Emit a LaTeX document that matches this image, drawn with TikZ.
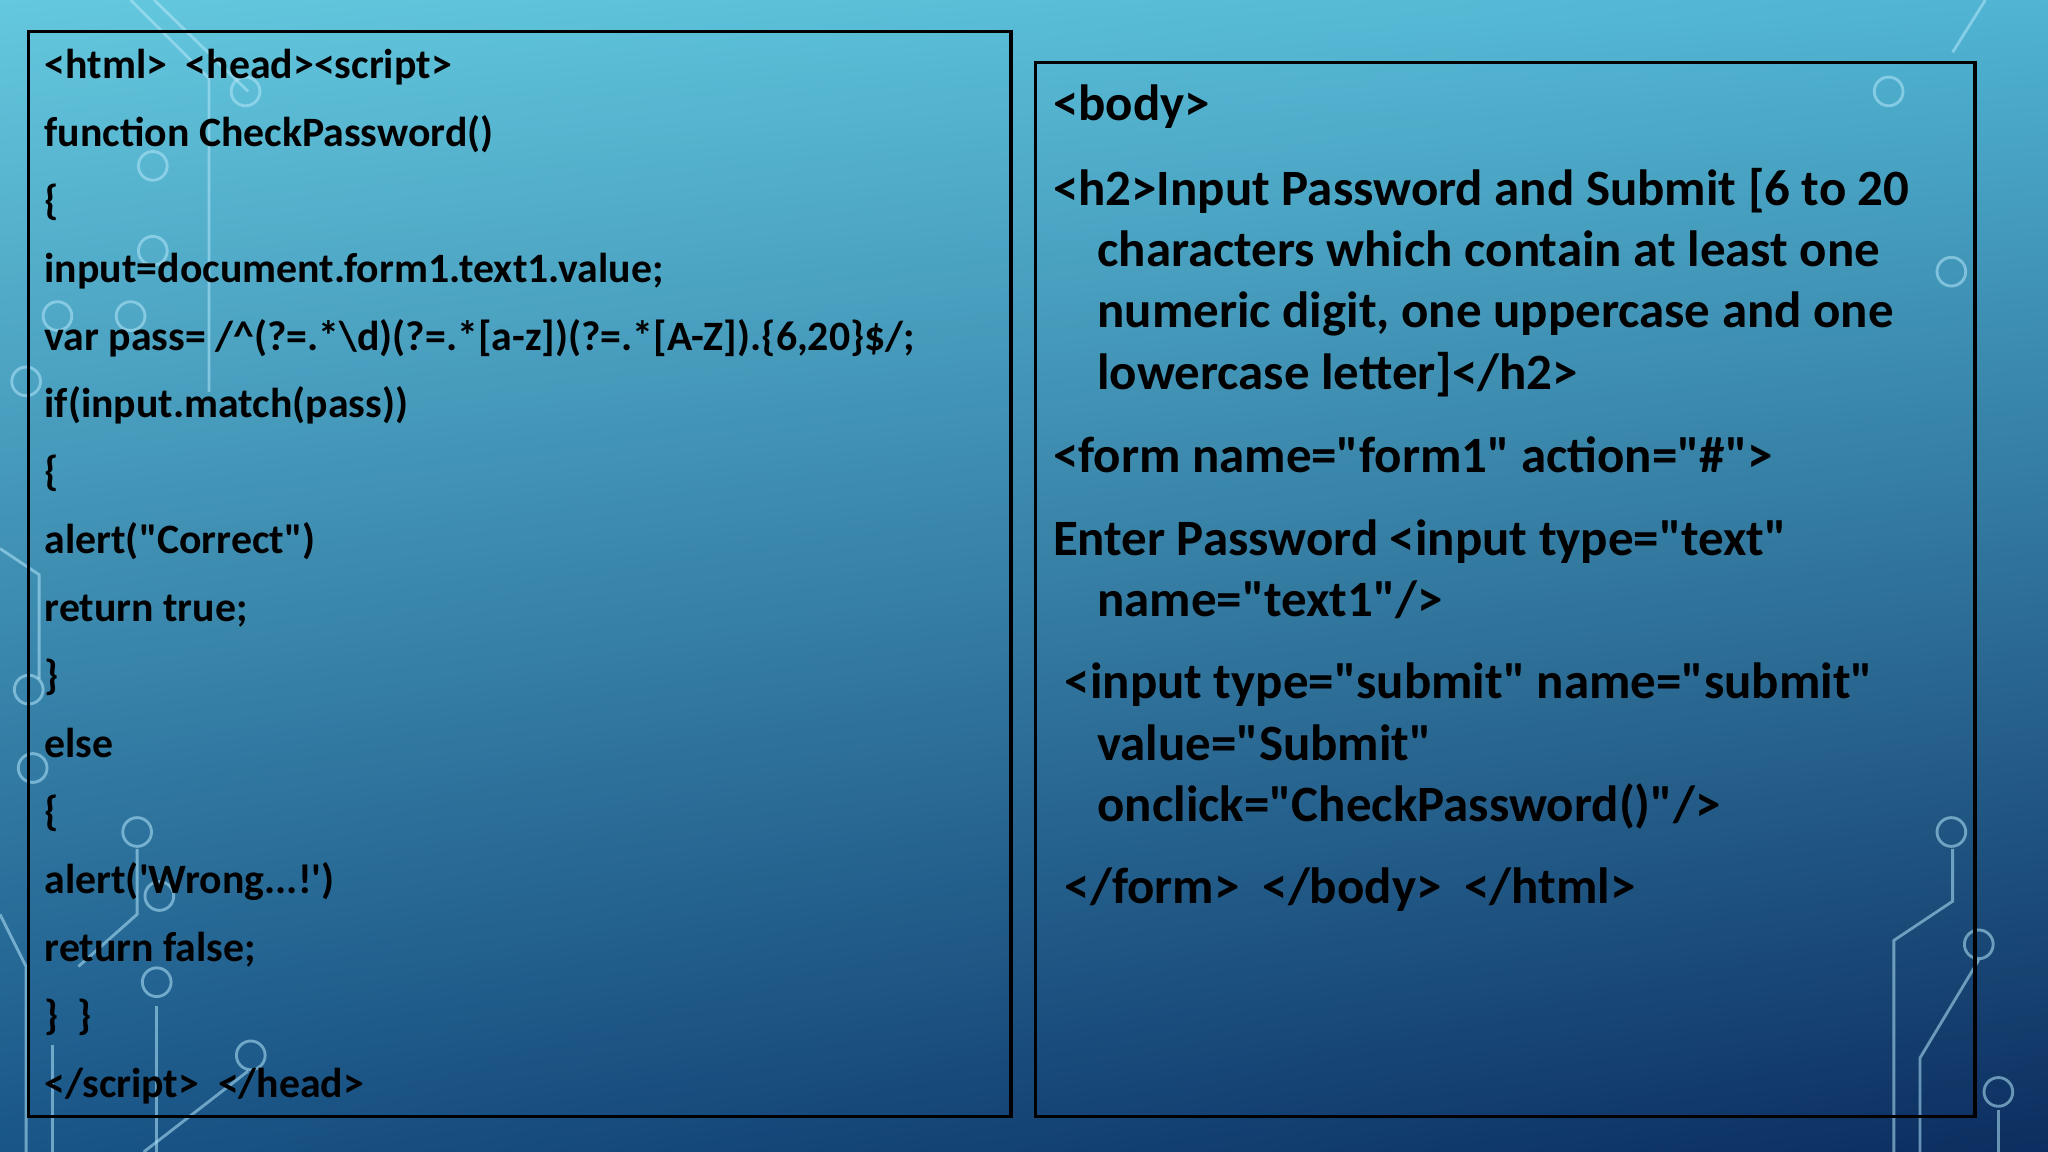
\documentclass[tikz,border=0pt]{standalone}
\usepackage{fontspec}
\usetikzlibrary{shadings}
\newfontfamily\cf{Carlito}[Ligatures=Common]
\begin{document}
\begin{tikzpicture}[x=1pt,y=-1pt,
  box/.style={draw=black,line width=2.5pt},
  lc/.style={anchor=base west,inner sep=0pt,font=\cf\bfseries\fontsize{32}{34}\selectfont,text=black},
  rc/.style={anchor=base west,inner sep=0pt,font=\cf\bfseries\fontsize{39}{42}\selectfont,text=black},
  trace/.style={draw=cyan!30!white,line width=2.2pt,opacity=0.55},
  pad/.style={draw=cyan!30!white,line width=2.2pt,opacity=0.55}]
\definecolor{ul}{RGB}{100,200,222}
\definecolor{ur}{RGB}{80,180,210}
\definecolor{ll}{RGB}{25,85,135}
\definecolor{lr}{RGB}{12,45,95}
\useasboundingbox (0,0) rectangle (1568,882);
\shade[upper left=ul, upper right=ur, lower left=ll, lower right=lr] (0,0) rectangle (1568,882);
% circuit decorations
\draw[trace] (100,0) -- (160,60) -- (160,300);
\draw[trace] (118,0) -- (190,70);
\draw[trace] (0,420) -- (30,440) -- (30,520);
\draw[trace] (0,700) -- (20,740) -- (20,882);
\draw[trace] (40,882) -- (40,800);
\draw[trace] (105,650) -- (105,700) -- (60,740);
\draw[trace] (120,770) -- (120,882);
\draw[trace] (190,820) -- (110,882);
\draw[trace] (1520,0) -- (1495,40);
\draw[trace] (1495,650) -- (1495,690) -- (1450,720) -- (1450,882);
\draw[trace] (1515,735) -- (1470,810) -- (1470,882);
\draw[trace] (1530,850) -- (1530,882);
\foreach \p in {(188,70),(117,127),(117,192),(100,242),(44,242),(20,292),(22,528),(25,588),(105,637),(122,686),(120,752),(192,808),(1446,70),(1494,208),(1494,637),(1515,723),(1530,836)}
  \draw[pad] \p circle (11);
\draw[box] (22,24) rectangle (774,855);
\draw[box] (793,48) rectangle (1512,855);
% left code
\node[lc] (l1) at (34,60) {<html>\ \ <head><script>};
\node[lc] (l2) at (34,112) {function CheckPassword()};
\node[lc] (l3) at (34,164) {\{};
\node[lc] (l4) at (34,216) {input=document.form1.text1.value;};
\node[lc] (l5) at (34,268) {var pass= /\textasciicircum(?=.*\textbackslash d)(?=.*[a-z])(?=.*[A-Z]).\{6,20\}\$/;};
\node[lc] (l6) at (34,320) {if(input.match(pass))};
\node[lc] (l7) at (34,372) {\{};
\node[lc] (l8) at (34,424) {alert("Correct")};
\node[lc] (l9) at (34,476) {return true;};
\node[lc] (l10) at (34,528) {\}};
\node[lc] (l11) at (34,580) {else};
\node[lc] (l12) at (34,632) {\{};
\node[lc] (l13) at (34,684) {alert(\textquotesingle Wrong...!\textquotesingle)};
\node[lc] (l14) at (34,736) {return false;};
\node[lc] (l15) at (34,788) {\}\ \ \}};
\node[lc] (l16) at (34,840) {</script>\ \ </head>};
% right code
\node[rc] (r1) at (806,92) {<body>};
\node[rc] (r2) at (806,157) {<h2>Input Password and Submit [6 to 20};
\node[rc] (r3) at (840,204) {characters which contain at least one};
\node[rc] (r4) at (840,251) {numeric digit, one uppercase and one};
\node[rc] (r5) at (840,298) {lowercase letter]</h2>};
\node[rc] (r6) at (806,362) {<form name="form1" action="\#">};
\node[rc] (r7) at (806,425) {Enter Password <input type="text"};
\node[rc] (r8) at (840,472) {name="text1"/>};
\node[rc] (r9) at (815,535) {<input type="submit" name="submit"};
\node[rc] (r10) at (840,582) {value="Submit"};
\node[rc] (r11) at (840,629) {onclick="CheckPassword()"/>};
\node[rc] (r12) at (815,692) {</form>\ \ </body>\ \ </html>};
\end{tikzpicture}
\end{document}
